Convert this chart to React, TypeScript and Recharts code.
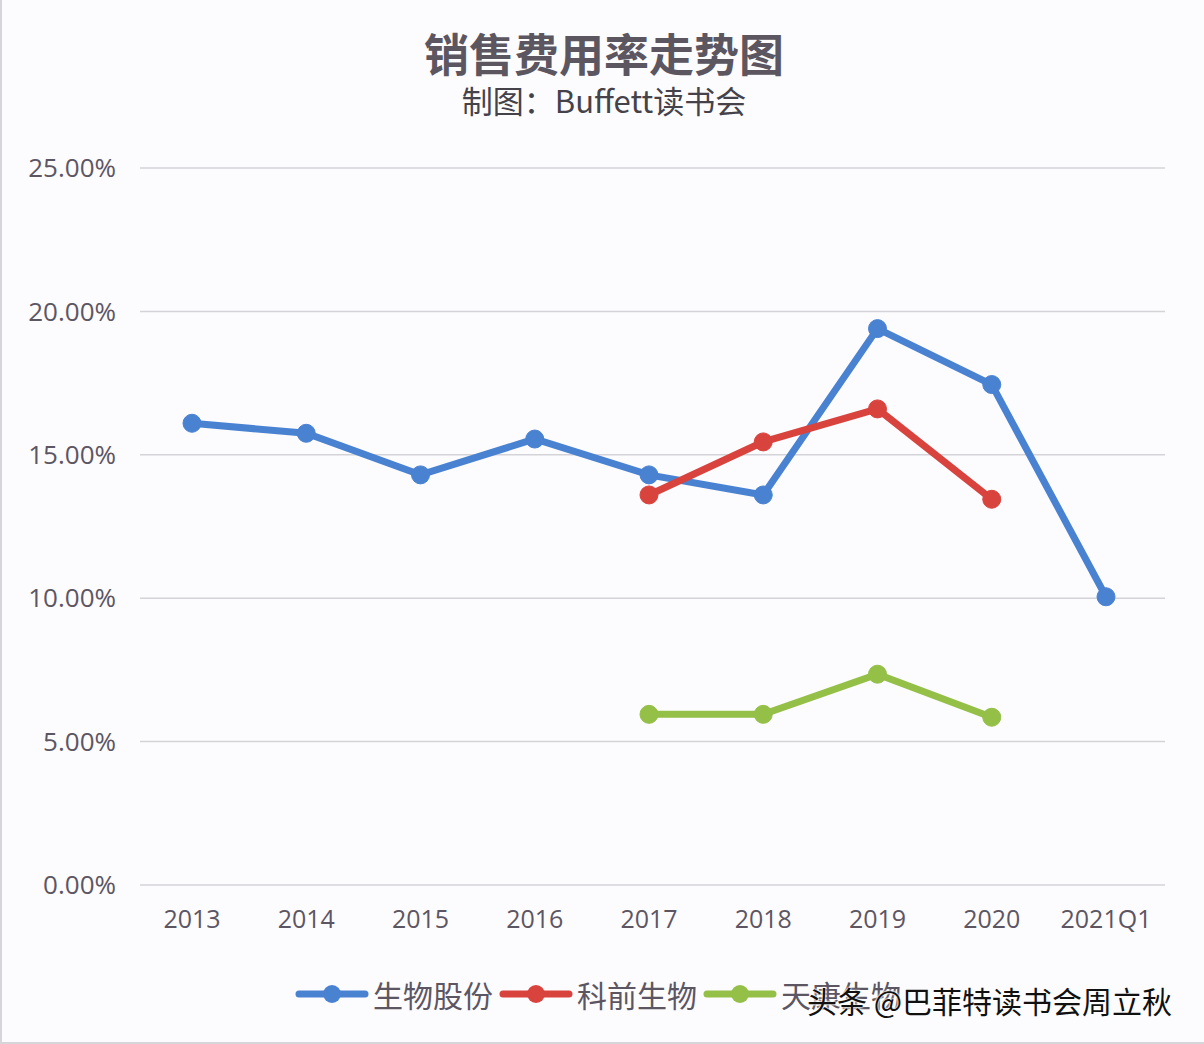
import React from "react";
import { LineChart, Line, XAxis, YAxis, CartesianGrid } from "recharts";

// 年份（横轴）
const years = ["2013", "2014", "2015", "2016", "2017", "2018", "2019", "2020", "2021Q1"];
// 销售费用率（%）
const shengwuGufen = [16.1, 15.75, 14.3, 15.55, 14.3, 13.6, 19.4, 17.45, 10.05];
const keqianShengwu = [null, null, null, null, 13.6, 15.45, 16.6, 13.45, null];
const tiankangShengwu = [null, null, null, null, 5.95, 5.95, 7.35, 5.85, null];
const yTicks = [0, 5, 10, 15, 20, 25];

const seriesNames = ["生物股份", "科前生物", "天康生物"];
const colors = ["#4a82d2", "#d9433d", "#94c048"];

const data = years.map((y, i) => ({
  year: y,
  a: shengwuGufen[i],
  b: keqianShengwu[i],
  c: tiankangShengwu[i],
}));

const textColor = "#5c5663";
const cjkFont = '"Noto Sans CJK SC", "Noto Sans", sans-serif';

function LegendRow() {
  return (
    <div
      style={{
        position: "absolute",
        left: 293,
        top: 972,
        display: "flex",
        alignItems: "center",
        height: 44,
      }}
    >
      {seriesNames.map((name, i) => (
        <div key={name} style={{ display: "flex", alignItems: "center", marginRight: 6 }}>
          <svg width={74} height={22}>
            <line x1={4} y1={11} x2={70} y2={11} stroke={colors[i]} strokeWidth={7} strokeLinecap="round" />
            <circle cx={37} cy={11} r={9} fill={colors[i]} />
          </svg>
          <span style={{ marginLeft: 4, fontSize: 30, color: textColor, fontFamily: cjkFont }}>{name}</span>
        </div>
      ))}
    </div>
  );
}

export default function App() {
  const dot = (c: string) => ({ r: 9, fill: c, stroke: c, strokeWidth: 1 });
  return (
    <div
      style={{
        position: "absolute",
        left: 0,
        top: 0,
        width: 1204,
        height: 1044,
        background: "#fcfbfe",
        boxSizing: "border-box",
        border: "2px solid #d6d6da",
        borderTop: "none",
        borderRight: "none",
        overflow: "hidden",
      }}
    >
      <div
        style={{
          position: "absolute",
          left: 0,
          width: 1204,
          top: 28,
          textAlign: "center",
          fontFamily: cjkFont,
          fontWeight: 700,
          fontSize: 45,
          color: "#5b5660",
          lineHeight: "50px",
        }}
      >
        销售费用率走势图
      </div>
      <div
        style={{
          position: "absolute",
          left: 0,
          width: 1204,
          top: 82,
          textAlign: "center",
          fontFamily: cjkFont,
          fontSize: 31,
          color: "#45424a",
          lineHeight: "36px",
        }}
      >
        制图：Buffett读书会
      </div>
      <div style={{ position: "absolute", left: -2, top: 0 }}>
        <LineChart
          width={1206}
          height={1044}
          data={data}
          margin={{ top: 168, right: 41, bottom: 119, left: 0 }}
        >
          <CartesianGrid vertical={false} stroke="#d4d4d8" strokeWidth={1.5} />
          <XAxis
            dataKey="year"
            axisLine={false}
            tickLine={false}
            tickSize={0}
            tickMargin={25}
            height={40}
            padding={{ left: 52, right: 59 }}
            tick={{ fontSize: 25, fill: textColor, fontFamily: '"Open Sans", sans-serif' }}
          />
          <YAxis
            domain={[0, 25]}
            ticks={yTicks}
            width={140}
            axisLine={false}
            tickLine={false}
            tickSize={0}
            tickMargin={24}
            tickFormatter={(v: number) => `${v.toFixed(2)}%`}
            tick={{ fontSize: 26, fill: textColor, fontFamily: '"Open Sans", sans-serif' }}
          />
          <Line dataKey="a" name={seriesNames[0]} stroke={colors[0]} strokeWidth={7} dot={dot(colors[0])} isAnimationActive={false} />
          <Line dataKey="b" name={seriesNames[1]} stroke={colors[1]} strokeWidth={7} dot={dot(colors[1])} isAnimationActive={false} />
          <Line dataKey="c" name={seriesNames[2]} stroke={colors[2]} strokeWidth={7} dot={dot(colors[2])} isAnimationActive={false} />
        </LineChart>
      </div>
      <LegendRow />
      <div
        style={{
          position: "absolute",
          left: 805,
          top: 980,
          fontFamily: cjkFont,
          fontSize: 30,
          color: "#111",
          lineHeight: "40px",
          textShadow: "0 0 2px #fff, 0 0 2px #fff, 0 0 3px #fff",
        }}
      >
        头条 @巴菲特读书会周立秋
      </div>
    </div>
  );
}
